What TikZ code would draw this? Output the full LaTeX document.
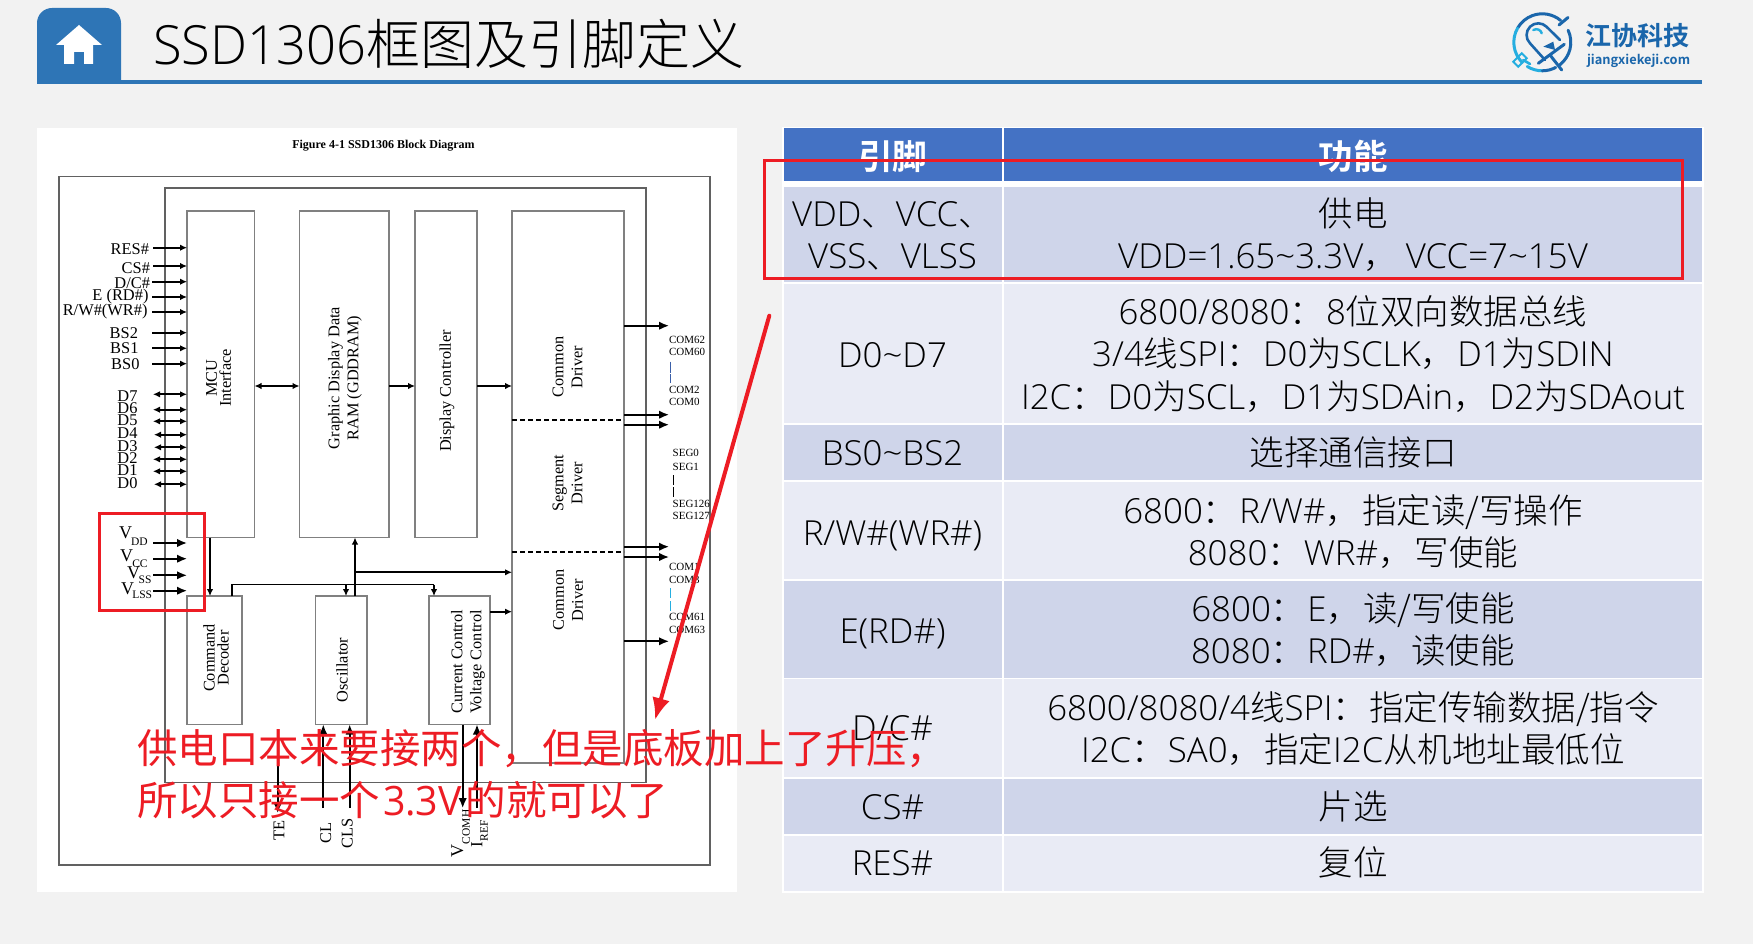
\documentclass[tikz,border=0pt]{standalone}
\usepackage{fontspec}
\usetikzlibrary{arrows.meta,calc}
\setmainfont{Noto Sans CJK SC Light}
\newfontfamily\cjkreg{Noto Sans CJK SC}
\newfontfamily\cjkbold{Noto Sans CJK SC Bold}
\newfontfamily\latfont[FakeStretch=1.01]{Open Sans Light}
\newfontfamily\lattitle[FakeStretch=0.97]{Open Sans Light}
\newfontfamily\latred[FakeStretch=0.97]{Open Sans}
\newfontfamily\timesf{Liberation Serif}
\newcommand\lt[1]{{\latfont #1}}
\newcommand\tld{\char"7E\relax}
\newcommand\pc{，\kern2pt\relax}
\newcommand\pl{：\kern2pt\relax}
\definecolor{bgc}{HTML}{F2F2F2}
\definecolor{tabblue}{HTML}{2E75B6}
\definecolor{headblue}{HTML}{4472C4}
\definecolor{rowd}{HTML}{CFD5EA}
\definecolor{rowl}{HTML}{E9EBF5}
\definecolor{redm}{HTML}{ED1C24}
\definecolor{logoa}{HTML}{1A66AB}
\definecolor{logob}{HTML}{25AEE0}
\definecolor{barblue}{HTML}{3B5FA8}
\tikzset{
  x=1pt,y=-1pt,
  every node/.style={inner sep=0pt,outer sep=0pt},
  cellt/.style={anchor=base,text=black,font=\fontsize{34.5}{40}\selectfont},
  headt/.style={anchor=base,text=white,font=\cjkbold\fontsize{34.5}{40}\selectfont},
  blockbox/.style={draw=black!50,line width=1.2pt,fill=white},
  frameb/.style={draw=black!62,line width=1.2pt},
  tn/.style={font=\timesf\fontsize{16.4}{16}\selectfont,text=black},
  tblock/.style={font=\timesf\fontsize{16.3}{19}\selectfont,text=black,align=center,rotate=90},
  tblockn/.style={font=\timesf\fontsize{16.3}{14}\selectfont,text=black,align=center,rotate=90},
  tsmall/.style={font=\timesf\fontsize{11}{11}\selectfont,text=black,anchor=west},
  ar/.style={line width=1.7pt,-{Latex[length=7pt,width=6.5pt]}},
  arb/.style={line width=1.7pt,{Latex[length=7pt,width=6.5pt]}-{Latex[length=7pt,width=6.5pt]}},
  arbig/.style={line width=1.7pt,-{Latex[length=10pt,width=8.5pt]}},
  redbox/.style={draw=redm,line width=3pt},
  redt/.style={anchor=base west,text=redm,font=\cjkreg\fontsize{40.5}{42}\selectfont},
  barl/.style={draw=barblue,line width=0.9pt},
  logoarc/.style={line width=3pt,line cap=round},
}
\newcommand\cel[4]{\node[cellt](#1) at (#2,#3+12.5){#4};}
\newcommand\rowrect[3]{%
 \fill[#1] (783.5,#2) rectangle (1001.5,#3);
 \fill[#1] (1003.5,#2) rectangle (1702,#3);}
\newcommand\vsub[6]{% name, Vx, Vy, sub, subx, suby
 \node[tn,anchor=west,font=\timesf\fontsize{18}{18}\selectfont](#1) at (#2,#3){V};
 \node[tn,anchor=west,font=\timesf\fontsize{11.5}{11}\selectfont](#1s) at (#5,#6){#4};}
\newcommand\blk[5]{\node[blockbox,anchor=north west,minimum width=#4-#2,minimum height=#5-#3](#1) at (#2,#3){};}
\newcommand\larc[3]{\draw[#1,logoarc] (1542.3,42.3) ++(#2:28.5) arc[start angle=#2,end angle=#3,radius=28.5];}
\begin{document}
\begin{tikzpicture}
\useasboundingbox (0,0) rectangle (1753,944);
\fill[bgc] (0,0) rectangle (1753,944);
% ---- header
\fill[tabblue] (37,84) [rounded corners=15pt] -- (37,8) -- (121,8) [sharp corners] -- (121,84) -- cycle;
\fill[tabblue] (121,80) rectangle (1702,84);
\fill[white] (79,25) -- (102,45) -- (93,45) -- (93,64) -- (84,64) -- (84,52) -- (74,52) -- (74,64) -- (64,64) -- (64,45) -- (56,45) -- cycle;
\node[anchor=base west,text=black,font=\fontsize{54}{54}\selectfont](title) at (153,65){{\lattitle SSD1306}框图及引脚定义};
% ---- logo
\larc{logoa}{-50}{-150}
\larc{logob}{-150}{-225}
\larc{logob}{122}{90}
\larc{logoa}{90}{62}
\larc{logoa}{52}{-25}
\begin{scope}[line cap=round]
 \draw[logoa,line width=3pt] (1559,25) -- (1568,17.5);
 \draw[logoa,line width=2.6pt] (1545,60) -- (1530,43.3) arc[start angle=135,end angle=315,radius=11.7] -- (1560,40);
 \draw[logob,line width=2.4pt] (1533.3,30) .. controls (1537,28) and (1541,30) .. (1541.7,33.3);
 \draw[logoa,line width=3pt] (1538.3,63.3) -- (1564.3,44.3);
 \draw[logoa,line width=3pt] (1550,55) -- (1561.7,70);
 \draw[logob,line width=2.6pt] (1530,64) -- (1523.3,60);
 \draw[logob,line width=2pt,rotate around={45:(1520,60)}] (1514,56.5) rectangle (1526,63.5);
 \fill[logoa] (1543.3,46.7) -- (1553.3,41.7) -- (1555,50) -- cycle;
\end{scope}
\node[anchor=base west,text=logoa,font=\cjkbold\fontsize{26}{26}\selectfont](logot) at (1585,46){江协科技};
\node[anchor=base west,text=logoa,font=\cjkbold\fontsize{12.8}{15}\selectfont](logou) at (1587,65){jiangxiekeji.com};
% ---- left panel
\fill[white] (37,128) rectangle (737,892);
\node[font=\timesf\bfseries\fontsize{12}{12}\selectfont,anchor=center](figt) at (383.5,145.5){Figure 4-1 SSD1306 Block Diagram};
\draw[frameb] (59,176.5) rectangle (710,865);
\draw[frameb] (165,188) rectangle (646,782.5);
\blk{mcu}{187}{211}{254.5}{537.5}
\blk{ram}{299.5}{211}{389}{537.5}
\blk{disp}{415}{211}{477}{537.5}
\blk{drv}{512}{211}{624}{763}
\blk{cmd}{187}{596}{242}{724.5}
\blk{osc}{315.5}{596}{367}{724.5}
\blk{cur}{429}{596}{490}{724.5}
\draw[line width=1.2pt,dash pattern=on 5pt off 3pt] (drv.west |- 0,420) -- (drv.east |- 0,420);
\draw[line width=1.2pt,dash pattern=on 5pt off 3pt] (drv.west |- 0,552) -- (drv.east |- 0,552);
% block labels
\node[tblockn](tmcu) at (218.5,378){MCU\\Interface};
\node[tblock](tram) at (345,378){Graphic Display Data\\RAM (GDDRAM)};
\node[tblock](tdisp) at (447,391){Display Controller};
\node[tblock](tcd1) at (567.5,367){Common\\Driver};
\node[tblock](tsd) at (567.5,483){Segment\\Driver};
\node[tblock](tcd2) at (568,600){Common\\Driver};
\node[tblockn](tcmd) at (216,658){Command\\Decoder};
\node[tblock](tosc) at (342,670){Oscillator};
\node[tblock](tcur) at (468,662){Current Control\\Voltage Control};
% pins
\foreach \n/\t/\ly/\ay/\xr/\xs in {
 pres/{RES\#}/249.3/247.7/149/153,
 pcs/{CS\#}/267.7/266/150/153,
 pdc/{D/C\#}/283/281.7/150/152,
 pe/{E (RD\#)}/297/297/148.5/152,
 prw/{R/W\#(WR\#)}/312/312/147.5/152,
 pb2/{BS2}/333/332.7/138/152,
 pb1/{BS1}/348.3/348.3/138.5/152,
 pb0/{BS0}/364.3/363.7/139.5/152}{
 \node[tn,anchor=east](\n) at (\xr,\ly){\t};
 \coordinate (s\n) at (\xs,\ay);
 \draw[ar] (s\n) -- (s\n -| mcu.west);
}
\foreach \n/\t/\ly/\ay/\xs in {
 pd7/D7/395.7/394.3/153,pd6/D6/408.3/409.7/153,pd5/D5/420.7/421.3/153,pd4/D4/433.3/434.7/154,
 pd3/D3/445.7/447.3/154,pd2/D2/458.3/459.3/153,pd1/D1/470.3/471.3/153,pd0/D0/483.3/484.3/154}{
 \node[tn,anchor=east](\n) at (137.5,\ly){\t};
 \coordinate (s\n) at (\xs,\ay);
 \draw[arb] (s\n) -- (s\n -| mcu.west);
}
% supply pins
\vsub{vdd}{119}{533}{DD}{131}{541.7}
\vsub{vcc}{120}{556}{CC}{132.3}{563.3}
\vsub{vss}{127}{572.3}{SS}{138.7}{579.3}
\vsub{vls}{121}{588.3}{LSS}{132.3}{595}
\foreach \n/\y in {a/543,b/558.7,c/575.3,d/590.7}{
 \coordinate (q\n) at (153,\y);
 \draw[arbig] (q\n) -- (q\n -| mcu.west);
}
% internal arrows
\coordinate (r386) at (0,386);
\draw[arb] (mcu.east |- r386) -- (ram.west |- r386);
\draw[ar] (ram.east |- r386) -- (disp.west |- r386);
\draw[ar] (disp.east |- r386) -- (drv.west |- r386);
\coordinate (xmc) at (210,0);
\draw[ar] (xmc |- mcu.south) -- (xmc |- cmd.north);
\coordinate (xbus) at (232,584.7);
\coordinate (xcb) at (434,584.7);
\draw[line width=1.3pt] (xbus |- cmd.north) -- (xbus) -- (xcb);
\draw[ar,line width=1.3pt] (xcb) -- (xcb |- cur.north);
\coordinate (xob) at (346,584.7);
\draw[ar,line width=1.3pt] (xob) -- (xob |- osc.north);
\coordinate (xor) at (355,0);
\draw[ar] (xor |- osc.north) -- (xor |- ram.south);
\coordinate (y572) at (355,572.3);
\draw[ar] (y572) -- (y572 -| drv.west);
\coordinate (y612) at (0,611.7);
\draw[ar] (cur.east |- y612) -- (drv.west |- y612);
% outputs
\foreach \n/\y in {a/325.7,b/414.7,c/424.7,d/546.7,e/557,f/641.3}{
 \coordinate (o\n) at (669,\y);
 \draw[arbig] (drv.east |- o\n) -- (o\n);
}
\foreach \n/\t/\x/\y in {
 ca/COM62/669/340.3,cb/COM60/669/352.3,cc/COM2/669/390.3,cd/COM0/669/402.3,
 sa/SEG0/672.7/453.3,sb/SEG1/672.7/466.7,sc/SEG126/672.7/503.7,sd/SEG127/672.7/516,
 ce/COM1/669/567.3,cf/COM3/669/580.3,cg/COM61/669/617.3,ch/COM63/669/630.3}{
 \node[tsmall](\n) at (\x,\y){\t};
}
\draw[barl] (670,361.7) -- (670,372.5);
\draw[barl] (670,374) -- (670,383);
\draw[draw=black,line width=0.9pt] (673.7,475) -- (673.7,485);
\draw[draw=black,line width=0.9pt] (673.7,487) -- (673.7,496.7);
\draw[barl,draw=logob] (670,588) -- (670,598);
\draw[barl,draw=logob] (670,601) -- (670,610.7);
% bottom pins
\coordinate (pte) at (277.7,813);
\draw[arbig] (pte |- 0,730) -- (pte);
\node[tn,rotate=90](lte) at (279,830){TE};
\coordinate (pcl) at (323.3,808);
\draw[arbig] (pcl) -- (pcl |- osc.south);
\node[tn,rotate=90](lcl) at (325.7,833){CL};
\coordinate (pcs) at (349.7,808);
\draw[arbig] (pcs) -- (pcs |- osc.south);
\node[tn,rotate=90](lcs) at (347.3,833){CLS};
\coordinate (pvc) at (462.7,808);
\draw[arbig] (pvc |- cur.south) -- (pvc);
\coordinate (pir) at (477,808);
\draw[arbig] (pir) -- (pir |- cur.south);
\node[tn,rotate=90,anchor=west,font=\timesf\fontsize{18}{18}\selectfont](lv) at (457.3,857){V};
\node[tn,rotate=90,anchor=west,font=\timesf\fontsize{11.5}{11}\selectfont](lvs) at (466,844){COMH};
\node[tn,rotate=90,anchor=west,font=\timesf\fontsize{17}{17}\selectfont](li) at (476.7,847){I};
\node[tn,rotate=90,anchor=west,font=\timesf\fontsize{11.5}{11}\selectfont](lis) at (484,841){REF};
% ---- table
\fill[white] (782,127) rectangle (1704,893);
\fill[headblue] (783.5,128.5) rectangle (1001.5,181.5);
\fill[headblue] (1003.5,128.5) rectangle (1702,181.5);
\rowrect{rowd}{187.5}{282}
\rowrect{rowl}{284}{423}
\rowrect{rowd}{425}{480}
\rowrect{rowl}{482}{579}
\rowrect{rowd}{581}{677.5}
\rowrect{rowl}{679}{776.5}
\rowrect{rowd}{779}{833.5}
\rowrect{rowl}{836}{891}
\def\ca{892.5}
\def\cb{1353}
\node[headt](h1) at (\ca,170){引脚};
\node[headt](h2) at (\cb,170){功能};
\cel{a1}{\ca}{214}{\lt{VDD}、\lt{VCC}、}
\cel{a2}{\ca}{256}{\lt{VSS}、\lt{VLSS}}
\cel{b1}{\cb}{214}{供电}
\cel{b2}{\cb}{256}{\lt{VDD=1.65\tld3.3V}，\kern8pt\lt{VCC=7\tld15V}}
\cel{a3}{\ca}{355}{\lt{D0\tld D7}}
\cel{b3}{\cb}{312}{\lt{6800/8080}\pl\lt{8}位双向数据总线}
\cel{b4}{\cb}{354}{\lt{3/4}线\lt{SPI}\pl\lt{D0}为\lt{SCLK}\pc\lt{D1}为\lt{SDIN}}
\cel{b5}{\cb}{396.7}{\lt{I2C}\pl\lt{D0}为\lt{SCL}\pc\lt{D1}为\lt{SDAin}\pc\lt{D2}为\lt{SDAout}}
\cel{a4}{\ca}{453.3}{\lt{BS0\tld BS2}}
\cel{b6}{\cb}{453.3}{选择通信接口}
\cel{a5}{\ca}{533}{\lt{R/W\#(WR\#)}}
\cel{b7}{\cb}{511}{\lt{6800}\pl\lt{R/W\#}\pc 指定读/写操作}
\cel{b8}{\cb}{552.7}{\lt{8080}\pl\lt{WR\#}\pc 写使能}
\cel{a6}{\ca}{630.7}{\lt{E(RD\#)}}
\cel{b9}{\cb}{609.3}{\lt{6800}\pl\lt{E}\pc 读/写使能}
\cel{b10}{\cb}{650.7}{\lt{8080}\pl\lt{RD\#}\pc 读使能}
\cel{a7}{\ca}{728}{\lt{D/C\#}}
\cel{b11}{\cb}{708.3}{\lt{6800/8080/4}线\lt{SPI}\pl 指定传输数据/指令}
\cel{b12}{\cb}{750}{\lt{I2C}\pl\lt{SA0}\pc 指定\lt{I2C}从机地址最低位}
\cel{a8}{\ca}{806.7}{\lt{CS\#}}
\cel{b13}{\cb}{806.7}{片选}
\cel{a9}{\ca}{863.3}{\lt{RES\#}}
\cel{b14}{\cb}{863.3}{复位}
% ---- annotations
\draw[redbox] (99,513) rectangle (204,610.7);
\draw[redbox] (764,161) rectangle (1682.7,278.7);
\coordinate (rs) at (769.3,315.7);
\coordinate (re) at (655,720);
\draw[redm,line width=4pt,line cap=round,-{Latex[length=22pt,width=18pt]}] (rs) -- (re);
\node[redt](rt1) at (137,763){供电口本来要接两个，但是底板加上了升压，};
\node[redt](rt2) at (137,815){所以只接一个\kern3pt{\latred 3.3V}\kern4pt 的就可以了};
\end{tikzpicture}
\end{document}
